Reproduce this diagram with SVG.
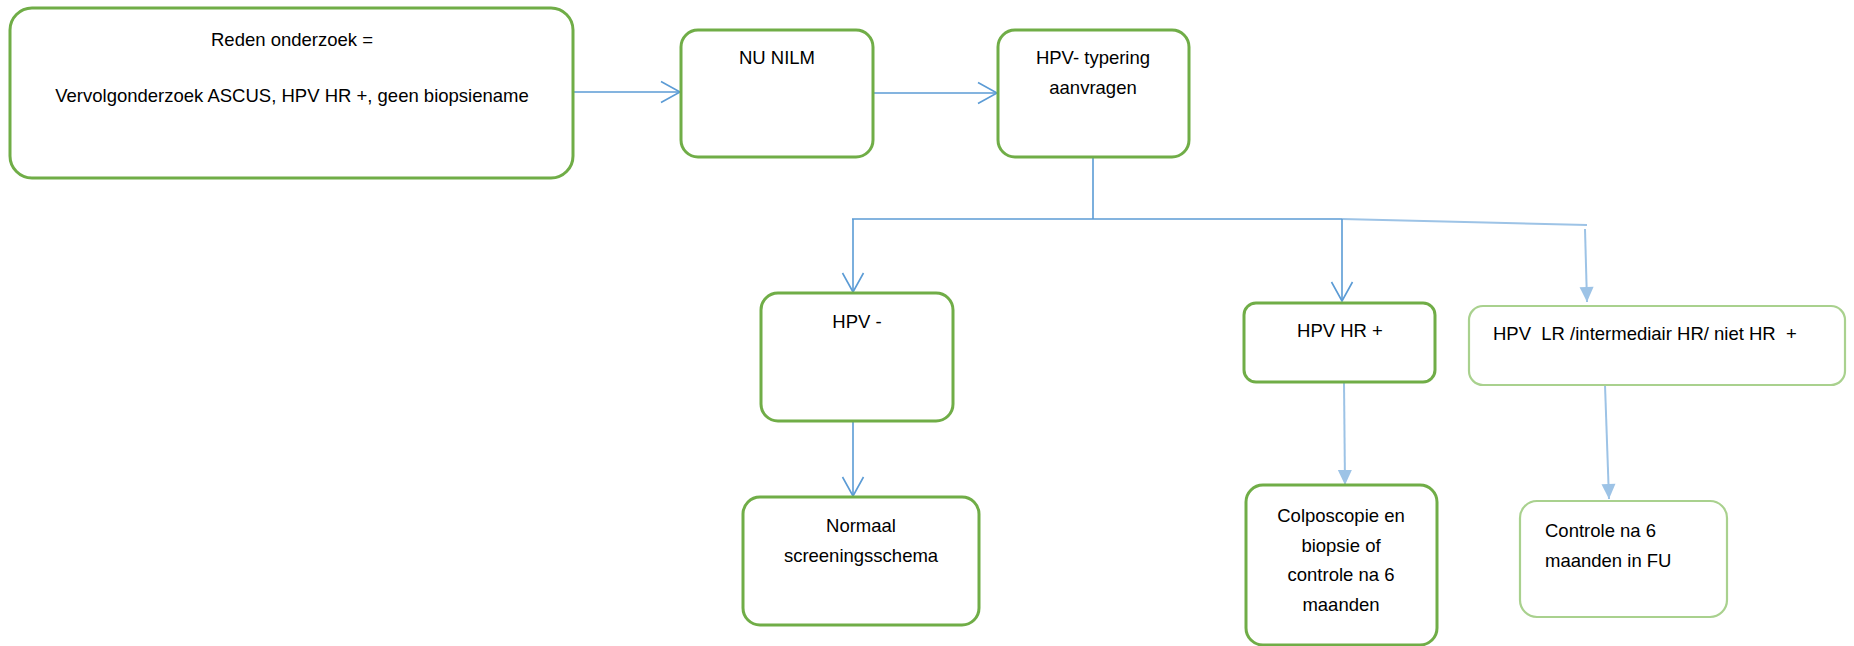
<svg xmlns="http://www.w3.org/2000/svg" width="1854" height="646" viewBox="0 0 1854 646">
<style>
  .box{fill:#fff;stroke:#70AD47;stroke-width:3}
  .lbox{fill:#fff;stroke:#A9D18E;stroke-width:2.2}
  .t{font-family:"Liberation Sans",Arial,sans-serif;font-size:18.5px;fill:#000;white-space:pre}
  .c{text-anchor:middle}
  .ln{fill:none;stroke:#5B9BD5;stroke-width:1.6}
  .ll{fill:none;stroke:#9DC3E6;stroke-width:2}
</style>
<defs>
  <marker id="open" viewBox="-22 -13 25 26" refX="0" refY="0" markerWidth="25" markerHeight="26" markerUnits="userSpaceOnUse" orient="auto">
    <path d="M-19,-10.5 L0,0 L-19,10.5" fill="none" stroke="#5B9BD5" stroke-width="1.6"/>
  </marker>
  <marker id="fill" viewBox="-16 -9 18 18" refX="0" refY="0" markerWidth="18" markerHeight="18" markerUnits="userSpaceOnUse" orient="auto">
    <path d="M-15,-7 L0,0 L-15,7 Z" fill="#9DC3E6"/>
  </marker>
</defs>
<rect width="1854" height="646" fill="#fff"/>
<g id="connectors">
  <line class="ln" x1="573" y1="92" x2="680" y2="92" marker-end="url(#open)"/>
  <line class="ln" x1="873" y1="93" x2="997" y2="93" marker-end="url(#open)"/>
  <line class="ln" x1="1093" y1="158" x2="1093" y2="219"/>
  <line class="ln" x1="852" y1="219" x2="1342" y2="219"/>
  <line class="ll" x1="1342" y1="219" x2="1587" y2="225"/>
  <line class="ln" x1="853" y1="219" x2="853" y2="292" marker-end="url(#open)"/>
  <line class="ln" x1="1342" y1="219" x2="1342" y2="301" marker-end="url(#open)"/>
  <line class="ll" x1="1585" y1="229" x2="1587" y2="302" marker-end="url(#fill)"/>
  <line class="ln" x1="853" y1="422" x2="853" y2="496" marker-end="url(#open)"/>
  <line class="ll" x1="1344" y1="383" x2="1345" y2="485" marker-end="url(#fill)"/>
  <line class="ll" x1="1605" y1="385" x2="1609" y2="499" marker-end="url(#fill)"/>
</g>
<g id="node-reden">
  <rect class="box" x="10" y="8" width="563" height="170" rx="22"/>
  <text class="t c" x="292" y="46">Reden onderzoek =</text>
  <text class="t c" x="292" y="102">Vervolgonderzoek ASCUS, HPV HR +, geen biopsiename</text>
</g>
<g id="node-nilm">
  <rect class="box" x="681" y="30" width="192" height="127" rx="17"/>
  <text class="t c" x="777" y="64">NU NILM</text>
</g>
<g id="node-typering">
  <rect class="box" x="998" y="30" width="191" height="127" rx="17"/>
  <text class="t c" x="1093" y="64">HPV- typering</text>
  <text class="t c" x="1093" y="94">aanvragen</text>
</g>
<g id="node-hpvneg">
  <rect class="box" x="761" y="293" width="192" height="128" rx="17"/>
  <text class="t c" x="857" y="328">HPV -</text>
</g>
<g id="node-hpvhr">
  <rect class="box" x="1244" y="303" width="191" height="79" rx="12"/>
  <text class="t c" x="1340" y="337">HPV HR +</text>
</g>
<g id="node-hpvlr">
  <rect class="lbox" x="1469" y="306" width="376" height="79" rx="14"/>
  <text class="t" x="1493" y="340">HPV  LR /intermediair HR/ niet HR  +</text>
</g>
<g id="node-normaal">
  <rect class="box" x="743" y="497" width="236" height="128" rx="17"/>
  <text class="t c" x="861" y="532">Normaal</text>
  <text class="t c" x="861" y="562">screeningsschema</text>
</g>
<g id="node-colpo">
  <rect class="box" x="1246" y="485" width="191" height="160" rx="17"/>
  <text class="t c" x="1341" y="522">Colposcopie en</text>
  <text class="t c" x="1341" y="551.5">biopsie of</text>
  <text class="t c" x="1341" y="581">controle na 6</text>
  <text class="t c" x="1341" y="610.5">maanden</text>
</g>
<g id="node-controle">
  <rect class="lbox" x="1520" y="501" width="207" height="116" rx="17"/>
  <text class="t" x="1545" y="537">Controle na 6</text>
  <text class="t" x="1545" y="567">maanden in FU</text>
</g>
</svg>
